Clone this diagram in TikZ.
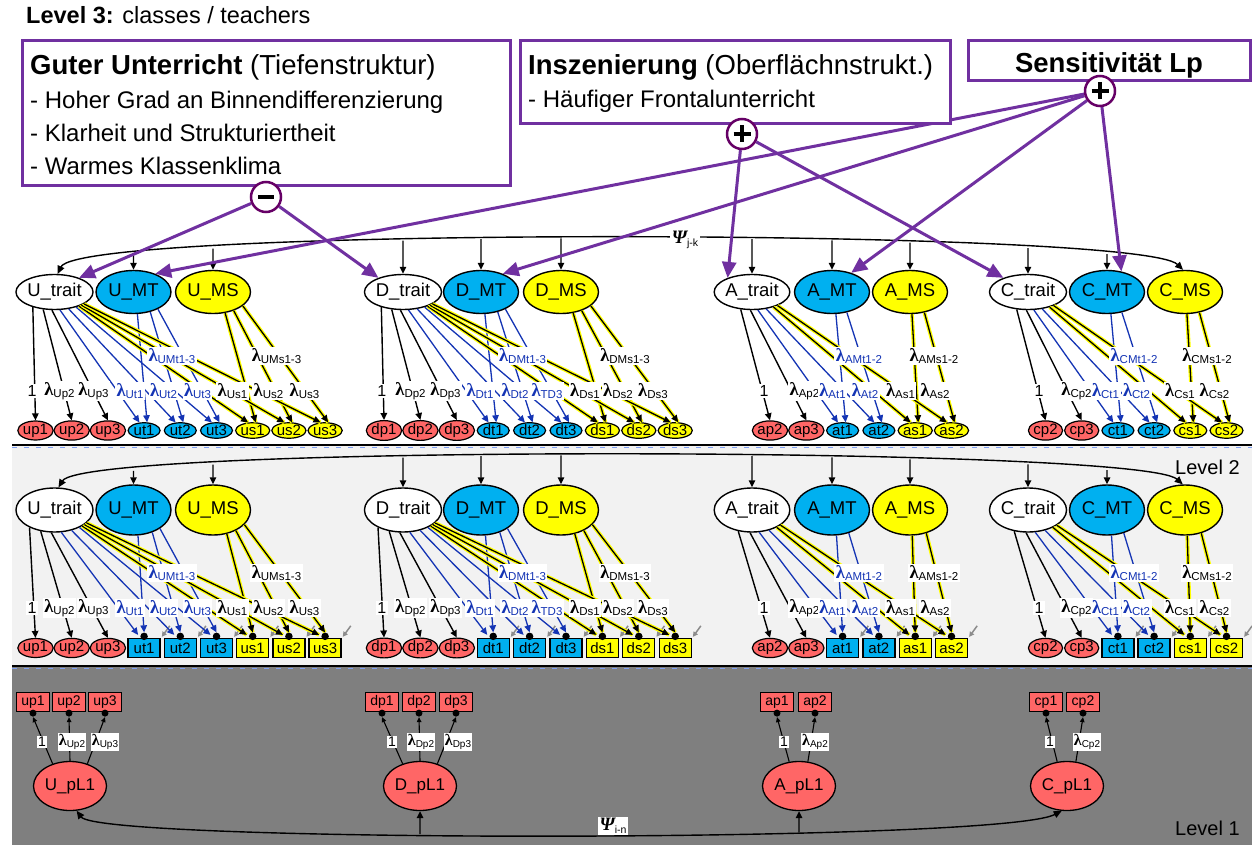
\documentclass[tikz,border=0pt]{standalone}
\usepackage{fontspec}
\setmainfont{Liberation Sans}
\newfontfamily\serf{Liberation Serif}
\usetikzlibrary{shapes.geometric,arrows.meta,calc,intersections}
\pgfdeclarelayer{bgl}\pgfdeclarelayer{fgl}\pgfdeclarelayer{topl}
\pgfsetlayers{bgl,main,fgl,topl}
\definecolor{purp}{HTML}{7030A0}
\definecolor{dpurp}{HTML}{660066}
\definecolor{mtblue}{HTML}{00B0F0}
\definecolor{msyel}{HTML}{FFFF00}
\definecolor{pred}{HTML}{FF6666}
\definecolor{lblue}{HTML}{1434B4}
\definecolor{lgray}{HTML}{F2F2F2}
\definecolor{dgray}{HTML}{7F7F7F}
\definecolor{sepblue}{HTML}{7F9FEF}
\definecolor{resg}{HTML}{8C8C8C}
\newcommand\fsz[1]{\fontsize{#1}{#1}\selectfont}
\newcommand\lamb[1]{{\serf\bfseries\fsz{18.5}λ}\raisebox{-1.5pt}{\fsz{11.5}#1}}
\newcommand\lambs[1]{{\serf\bfseries\fsz{16}λ}\raisebox{-1.5pt}{\fsz{10}#1}}
\newcommand\psil[1]{{\serf\bfseries\itshape\fsz{19}Ψ}\raisebox{-2.5pt}{\fsz{10.5}#1}}
\tikzset{
 lat/.style={ellipse,draw,line width=1.4pt,inner sep=0pt,font=\fsz{18.5}},
 trait3/.style={lat,fill=white,minimum width=73pt,minimum height=35pt},
 lat3/.style={lat,minimum width=75pt,minimum height=43pt},
 trait2/.style={lat,fill=white,minimum width=74pt,minimum height=44pt},
 lat2/.style={lat,minimum width=75pt,minimum height=50pt},
 indE/.style={ellipse,draw,line width=1.2pt,inner sep=0pt,minimum width=32pt,minimum height=15.5pt,font=\fsz{15}},
 indR/.style={rectangle,draw,line width=1.3pt,inner sep=0pt,minimum width=32pt,minimum height=19pt,font=\fsz{15}},
 ind1/.style={rectangle,draw,line width=1.2pt,inner sep=0pt,minimum width=33pt,minimum height=19pt,fill=pred,font=\fsz{14}},
 pl1/.style={ellipse,draw,line width=1.3pt,fill=pred,inner sep=0pt,minimum width=73pt,minimum height=49pt,font=\fsz{17}},
 arrB/.style={draw=black,line width=1.4pt,-{Triangle[length=7pt,width=6.5pt]}},
 arrT/.style={draw=lblue,line width=1.3pt,-{Triangle[length=7pt,width=6.5pt]}},
 arrS/.style={preaction={draw=msyel,line width=3.8pt,-},draw=black,line width=1.3pt,-{Triangle[length=7pt,width=6.5pt]}},
 arr1/.style={draw=black,line width=1.1pt,-{Triangle[length=5pt,width=4.5pt]}},
 resA/.style={draw=resg,line width=1.5pt,-{Triangle[length=5pt,width=5pt]}},
 curv/.style={draw=black,line width=1.4pt,{Triangle[length=8pt,width=7pt]}-{Triangle[length=8pt,width=7pt]}},
 dot/.style={circle,fill=black,inner sep=0pt,minimum size=7.5pt},
 lab/.style={fill=white,inner sep=1.5pt,font=\fsz{16}},
 lab1/.style={fill=white,inner sep=1.2pt,font=\fsz{14}},
 pbox/.style={draw=purp,line width=3pt,fill=white,inner sep=0pt},
 pcirc/.style={circle,draw=dpurp,line width=2.5pt,fill=white,minimum size=30pt,inner sep=0pt},
 purA/.style={draw=purp,line width=3pt,-{Triangle[length=16pt,width=14pt]}},
 txt/.style={anchor=base west,inner sep=0pt}
}
% block: #1 level, #2 letter, #3 xT, #4 xM, #5 xS, #6 p list, #7 t list, #8 s list, #9 method labels
\newcommand\blk[9]{%
\ifnum#1=3\relax
 \def\yL{292}\def\yI{430.5}\def\yLab{391}\def\yLabM{356}%
 \tikzset{curT/.style={trait3},curL/.style={lat3},curI/.style={indE}}%
\else
 \def\yL{510}\def\yI{648}\def\yLab{608}\def\yLabM{573}%
 \tikzset{curT/.style={trait2},curL/.style={lat2},curI/.style={indR}}%
\fi
\node[curT] (#2T#1) at (#3,\yL) {#2\_trait};
\node[curL,fill=mtblue] (#2M#1) at (#4,\yL) {#2\_MT};
\node[curL,fill=msyel] (#2S#1) at (#5,\yL) {#2\_MS};
\foreach \x/\nm/\lx/\tx/\aT in #6{%
  \node[indE,fill=pred] (\nm#1) at (\x,\yI) {\nm};
  \draw[arrB] (#2T#1.\aT) -- (\nm#1.north);
  \begin{pgfonlayer}{fgl}\node[lab] (L\nm#1) at (\lx,\yLab) {\tx};\end{pgfonlayer}
}%
\foreach \x/\nm/\lx/\tx/\aT/\aM in #7{%
  \node[curI,fill=mtblue] (\nm#1) at (\x,\yI) {\nm};
  \ifnum#1=3\relax
    \coordinate (eT) at (\nm#1.120); \coordinate (eM) at (\nm#1.70);
  \else
    \coordinate (eT) at ($(\nm#1.north)+(-6,-3)$); \coordinate (eM) at ($(\nm#1.north)+(0,-5.5)$);
    \begin{pgfonlayer}{fgl}\node[dot] (D\nm#1) at ($(\nm#1.north)+(0,-1.5)$) {};\end{pgfonlayer}
    \draw[resA] ($(\nm#1.north east)+(9,-12)$) -- ($(\nm#1.north east)+(1,-1)$);
  \fi
  \draw[arrT] (#2T#1.\aT) -- (eT);
  \draw[arrT] (#2M#1.\aM) -- (eM);
  \begin{pgfonlayer}{fgl}\node[lab,text=lblue] (L\nm#1) at (\lx,\yLab) {\tx};\end{pgfonlayer}
}%
\foreach \x/\nm/\lx/\tx/\aT/\aM in #8{%
  \node[curI,fill=msyel] (\nm#1) at (\x,\yI) {\nm};
  \ifnum#1=3\relax
    \coordinate (eT) at (\nm#1.120); \coordinate (eM) at (\nm#1.70);
  \else
    \coordinate (eT) at ($(\nm#1.north)+(-6,-3)$); \coordinate (eM) at ($(\nm#1.north)+(0,-5.5)$);
    \begin{pgfonlayer}{fgl}\node[dot] (D\nm#1) at ($(\nm#1.north)+(0,-1.5)$) {};\end{pgfonlayer}
    \draw[resA] ($(\nm#1.north east)+(9,-12)$) -- ($(\nm#1.north east)+(1,-1)$);
  \fi
  \draw[arrS] (#2T#1.\aT) -- (eT);
  \draw[arrS] (#2S#1.\aM) -- (eM);
  \begin{pgfonlayer}{fgl}\node[lab] (L\nm#1) at (\lx,\yLab) {\tx};\end{pgfonlayer}
}%
\foreach \xa/\ta/\xb/\tb in #9{%
  \begin{pgfonlayer}{fgl}
  \node[lab,text=lblue] (LM#2#1) at (\xa,\yLabM) {\ta};
  \node[lab] (LS#2#1) at (\xb,\yLabM) {\tb};
  \end{pgfonlayer}
}%
}
\newcommand\lone[3]{%
\node[pl1] (#1L1) at (#2,786) {#1\_pL1};
\foreach \x/\nm/\lx/\tx/\aT in #3{%
  \node[ind1] (\nm1) at (\x,702) {\nm};
  \node[dot,minimum size=7pt] (D\nm1) at ($(\nm1.south)+(0,1)$) {};
  \draw[arr1] (#1L1.\aT) -- ($(\nm1.south)+(0,5)$);
  \node[lab1] (L\nm1) at (\lx,742) {\tx};
}}
\def\Up{35.5/up1/32/1/215, 71.7/up2/59.5/{\lamb{Up2}}/237, 107.9/up3/93.5/{\lamb{Up3}}/262}
\def\Ut{144.1/ut1/130/{\lamb{Ut1}}/287/280, 180.3/ut2/163.5/{\lamb{Ut2}}/310/310, 216.5/ut3/197.5/{\lamb{Ut3}}/325/325}
\def\Us{252.7/us1/232.5/{\lamb{Us1}}/330/300, 288.9/us2/268.5/{\lamb{Us2}}/334/318, 325.1/us3/304.5/{\lamb{Us3}}/338/335}
\def\Um{172/{\lamb{UMt1-3}}/276.5/{\lamb{UMs1-3}}}
\def\Dp{384/dp1/381.7/1/215, 420.4/dp2/410.5/{\lamb{Dp2}}/237, 456.8/dp3/445.5/{\lamb{Dp3}}/262}
\def\Dt{493.2/dt1/480/{\lamb{Dt1}}/287/280, 529.6/dt2/515/{\lamb{Dt2}}/310/310, 566/dt3/547/{\lamb{TD3}}/325/325}
\def\Ds{602.4/ds1/585/{\lamb{Ds1}}/330/300, 638.8/ds2/618/{\lamb{Ds2}}/334/318, 675.2/ds3/653/{\lamb{Ds3}}/338/335}
\def\Dm{522.5/{\lamb{DMt1-3}}/625/{\lamb{DMs1-3}}}
\def\Ap{770/ap2/764/1/237, 806.3/ap3/804.5/{\lamb{Ap2}}/265}
\def\At{842.6/at1/832.5/{\lamb{At1}}/288/280, 878.9/at2/865/{\lamb{At2}}/310/306}
\def\As{915.2/as1/900.5/{\lamb{As1}}/325/275, 951.5/as2/935/{\lamb{As2}}/332/305}
\def\Am{859/{\lamb{AMt1-2}}/934/{\lamb{AMs1-2}}}
\def\Cp{1045.5/cp2/1039/1/237, 1081.7/cp3/1076.5/{\lamb{Cp2}}/265}
\def\Ct{1117.9/ct1/1105.5/{\lamb{Ct1}}/288/280, 1154.1/ct2/1136.5/{\lamb{Ct2}}/310/306}
\def\Cs{1190.3/cs1/1180/{\lamb{Cs1}}/325/275, 1226.5/cs2/1214.5/{\lamb{Cs2}}/332/305}
\def\Cm{1134/{\lamb{CMt1-2}}/1207/{\lamb{CMs1-2}}}
\begin{document}
\begin{tikzpicture}[x=1pt,y=-1pt]
\useasboundingbox (0,0) rectangle (1252,845);
\begin{pgfonlayer}{bgl}
\fill[white] (0,0) rectangle (1252,845);
\fill[lgray] (12,446) rectangle (1252,667);
\fill[dgray] (12,667) rectangle (1252,845);
\draw[line width=2pt] (12,445) -- (1252,445);
\draw[sepblue,line width=1.3pt,dash pattern=on 5pt off 7pt] (12,447.3) -- (1252,447.3);
\draw[line width=2pt] (12,666) -- (1252,666);
\draw[sepblue,line width=1.3pt,dash pattern=on 5pt off 7pt] (12,668.3) -- (1252,668.3);
\end{pgfonlayer}
\node[txt,font=\fsz{23.5}] (lv3) at (26,24) {\textbf{Level 3:} classes / teachers};
\node[txt,font=\fsz{20}] (lv2) at (1175,474) {Level 2};
\node[txt,font=\fsz{20}] (lv1) at (1175,835) {Level 1};
% level 3 and 2 blocks
\blk{3}{U}{54.5}{133.5}{213}{\Up}{\Ut}{\Us}{\Um}
\blk{3}{D}{403}{481}{561}{\Dp}{\Dt}{\Ds}{\Dm}
\blk{3}{A}{752}{832}{910}{\Ap}{\At}{\As}{\Am}
\blk{3}{C}{1028}{1107}{1185}{\Cp}{\Ct}{\Cs}{\Cm}
\blk{2}{U}{54.5}{133.5}{213}{\Up}{\Ut}{\Us}{\Um}
\blk{2}{D}{403}{481}{561}{\Dp}{\Dt}{\Ds}{\Dm}
\blk{2}{A}{752}{832}{910}{\Ap}{\At}{\As}{\Am}
\blk{2}{C}{1028}{1107}{1185}{\Cp}{\Ct}{\Cs}{\Cm}
% covariance curves
\draw[curv,name path=c3] (UT3.80) .. controls (80,226) and (1140,228) .. (CS3.95);
\foreach \nd in {UM3,US3,DT3,DM3,DS3,AT3,AM3,AS3,CT3,CM3}{
  \path[name path=vv] (\nd.north) -- ++(0,-80);
  \draw[arrB,name intersections={of=c3 and vv}] (intersection-1) -- (\nd.north);
}
\begin{pgfonlayer}{fgl}\node[lab] (psi3) at (685,240) {\psil{j-k}};\end{pgfonlayer}
\draw[curv,name path=c2] (UT2.80) .. controls (85,444) and (1140,446) .. (CS2.95);
\foreach \nd in {UM2,US2,DT2,DM2,DS2,AT2,AM2,AS2,CT2,CM2}{
  \path[name path=vv] (\nd.north) -- ++(0,-80);
  \draw[arrB,name intersections={of=c2 and vv}] (intersection-1) -- (\nd.north);
}
% level 1
\lone{U}{70}{{33/up1/42/1/128, 69/up2/72/{\lambs{Up2}}/90, 105/up3/105/{\lambs{Up3}}/52}}
\lone{D}{420}{{382/dp1/392/1/128, 419/dp2/421/{\lambs{Dp2}}/90, 456/dp3/458/{\lambs{Dp3}}/52}}
\lone{A}{799}{{777/ap1/784/1/112, 815/ap2/815/{\lambs{Ap2}}/70}}
\lone{C}{1067}{{1046/cp1/1050/1/112, 1083/cp2/1087/{\lambs{Cp2}}/70}}
\draw[curv,name path=c1] (UL1.285) .. controls (100,843) and (1000,843) .. (CL1.258);
\foreach \nd in {DL1,AL1}{
  \path[name path=vv] (\nd.south) -- ++(0,40);
  \draw[arrB,name intersections={of=c1 and vv}] (intersection-1) -- (\nd.south);
}
\node[lab] (psi1) at (613,826) {\psil{i-n}};
% top boxes
\begin{pgfonlayer}{topl}
\node[pbox,minimum width=488pt,minimum height=145pt] (box1) at (266,113.5) {};
\node[txt,font=\fsz{27.5}] (b1t) at (30,75) {\textbf{Guter Unterricht} (Tiefenstruktur)};
\node[txt,font=\fsz{24}] (b1a) at (30,109) {- Hoher Grad an Binnendifferenzierung};
\node[txt,font=\fsz{24}] (b1b) at (30,142) {- Klarheit und Strukturiertheit};
\node[txt,font=\fsz{24}] (b1c) at (30,175) {- Warmes Klassenklima};
\node[pbox,minimum width=430pt,minimum height=83pt] (box2) at (735,82.5) {};
\node[txt,font=\fsz{27.5}] (b2t) at (528,75) {\textbf{Inszenierung} (Oberflächnstrukt.)};
\node[txt,font=\fsz{24}] (b2a) at (528,108) {- Häufiger Frontalunterricht};
\node[pbox,minimum width=282pt,minimum height=40pt] (box3) at (1109,61) {};
\node[anchor=base,inner sep=0pt,font=\fsz{27.5}\bfseries] (b3t) at (1109,73) {Sensitivität Lp};
\node[pcirc] (minus) at (266,197) {};
\draw[line width=3.5pt] ($(minus.center)+(-8,0)$) -- ($(minus.center)+(8,0)$);
\node[pcirc] (plusA) at (742,134) {};
\draw[line width=3.5pt] ($(plusA.center)+(-8.5,0)$) -- ($(plusA.center)+(8.5,0)$);
\draw[line width=3.5pt] ($(plusA.center)+(0,-8.5)$) -- ($(plusA.center)+(0,8.5)$);
\node[pcirc] (plusB) at (1100,91) {};
\draw[line width=3.5pt] ($(plusB.center)+(-8.5,0)$) -- ($(plusB.center)+(8.5,0)$);
\draw[line width=3.5pt] ($(plusB.center)+(0,-8.5)$) -- ($(plusB.center)+(0,8.5)$);
\end{pgfonlayer}
% purple effects
\draw[purA] (minus) -- (UT3.30);
\draw[purA] (minus) -- (DT3.150);
\draw[purA] (plusA) -- (AT3.150);
\draw[purA] (plusA) -- (CT3.150);
\draw[purA] (plusB) -- (UM3.40);
\draw[purA] (plusB) -- (DM3.40);
\draw[purA] (plusB) -- (AM3.45);
\draw[purA] (plusB) -- (CM3.55);
\end{tikzpicture}
\end{document}
